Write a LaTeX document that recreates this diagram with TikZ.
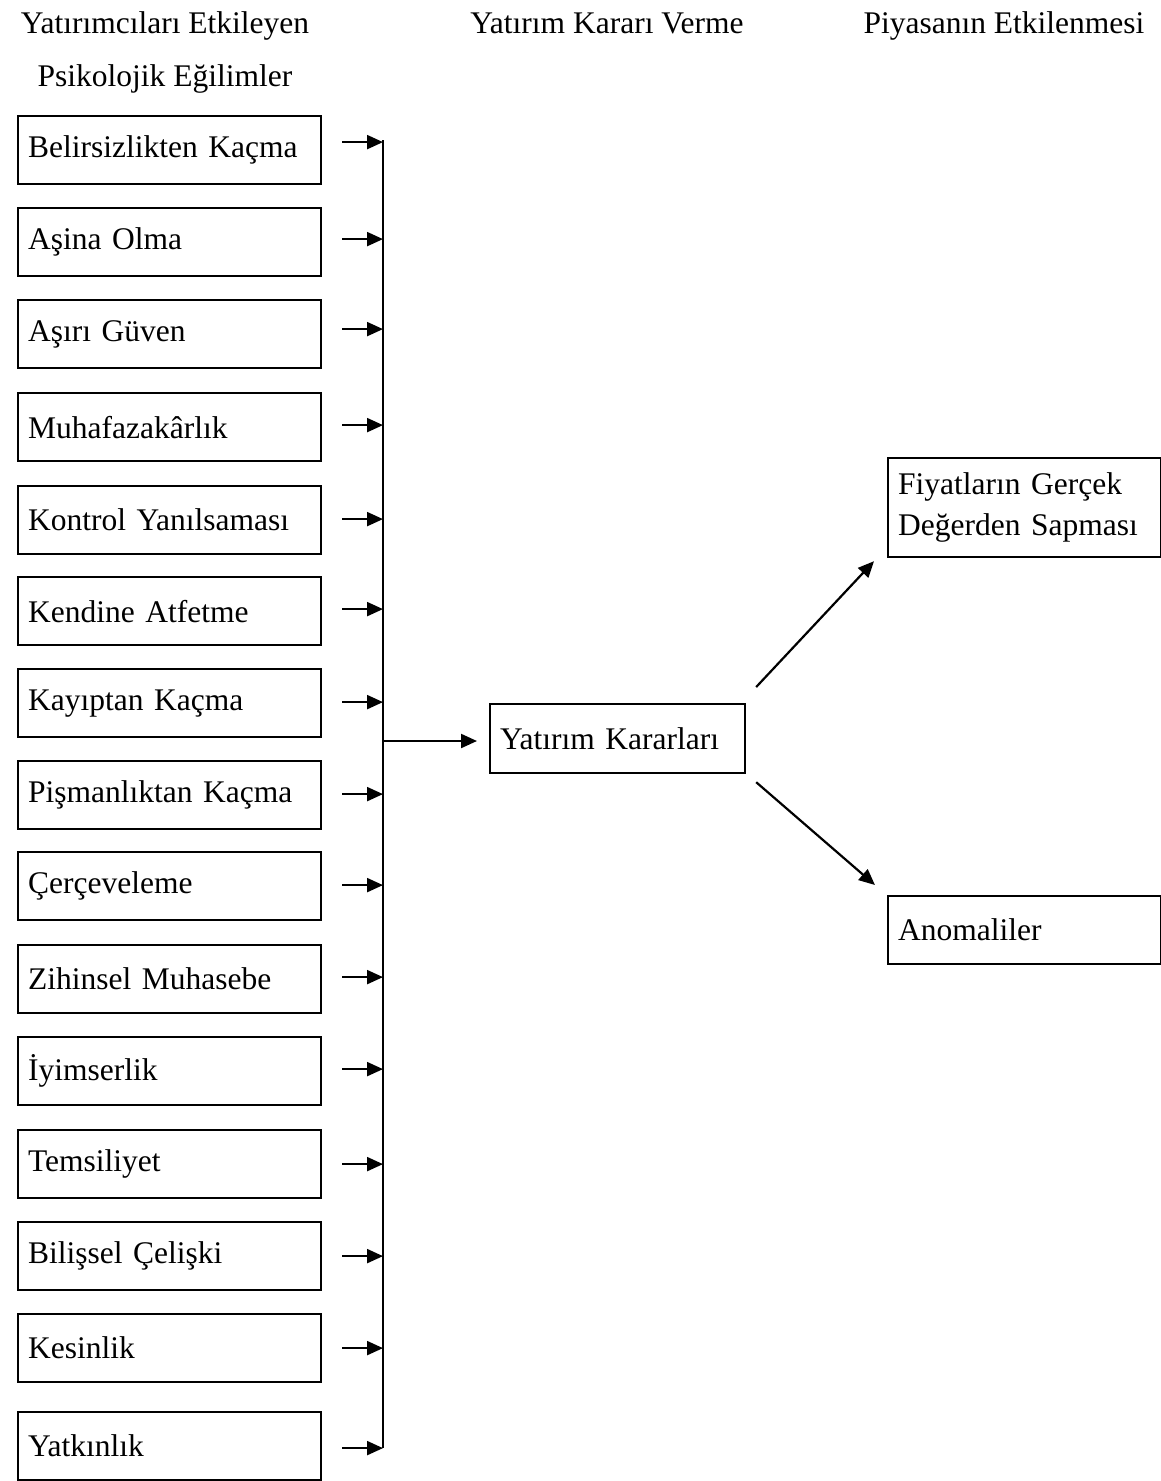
\documentclass[tikz,border=0pt]{standalone}
\usepackage{fontspec}
\setmainfont{Liberation Serif}
\usetikzlibrary{arrows.meta,calc}
\begin{document}
\begin{tikzpicture}[x=1pt,y=-1pt,
  every node/.style={font=\fontsize{31.5}{41}\selectfont},
  lbox/.style={draw,line width=2.2pt,rectangle,minimum height=68pt,text width=283pt,inner xsep=10pt,inner ysep=0pt,align=left,anchor=north west},
  hdr/.style={inner sep=0pt,anchor=base},
  arr/.style={line width=2.2pt,-{Triangle[length=16pt,width=14pt]}},
  ln/.style={line width=2.2pt}]
\useasboundingbox (0,0) rectangle (1161,1481);
% headers
\node[hdr] (h1) at (165,33) {Yatırımcıları Etkileyen};
\node[hdr] (h2) at (165,86) {Psikolojik Eğilimler};
\node[hdr] (h3) at (607,33) {Yatırım Kararı Verme};
\node[hdr] (h4) at (1004,33) {Piyasanın Etkilenmesi};
% left boxes
\foreach \i/\t/\y in {1/Belirsizlikten Kaçma/115, 2/Aşina Olma/207, 3/Aşırı Güven/299, 4/Muhafazakârlık/392, 5/Kontrol Yanılsaması/485, 6/Kendine Atfetme/576, 7/Kayıptan Kaçma/668, 8/Pişmanlıktan Kaçma/760, 9/Çerçeveleme/851, 10/Zihinsel Muhasebe/944, 11/İyimserlik/1036, 12/Temsiliyet/1129, 13/Bilişsel Çelişki/1221, 14/Kesinlik/1313, 15/Yatkınlık/1411}
  {\node[lbox] (b\i) at (17,\y) {\t};}
% bus
\coordinate (bustop) at (383,140);
\coordinate (busbot) at (383,1448);
\coordinate (busmid) at (383,741);
\draw[ln] (bustop) -- (busbot);
\foreach \i/\dy in {1/-8,2/-3,3/-5,4/-2,5/-1,6/-2,7/-1,8/-1,9/-1,10/-2,11/-2,12/0,13/0,14/0,15/2}
  {\draw[arr] ([xshift=20pt,yshift=-\dy pt]b\i.east) -- ([yshift=-\dy pt]b\i.east -| bustop);}
% decision box
\node[draw,line width=2.2pt,rectangle,minimum width=255pt,minimum height=69pt,text width=235pt,inner xsep=10pt,inner ysep=0pt,align=left,anchor=north west] (yk) at (489,703) {Yatırım Kararları};
\draw[arr] (busmid) -- (busmid -| {$(yk.west)+(-12,0)$});
% outcome boxes
\node[draw,line width=2.2pt,rectangle,minimum width=273pt,minimum height=99pt,text width=253pt,inner xsep=10pt,inner ysep=0pt,align=left,anchor=north west] (fg) at (887,457) {Fiyatların Gerçek\\Değerden Sapması};
\node[draw,line width=2.2pt,rectangle,minimum width=273pt,minimum height=68pt,text width=253pt,inner xsep=10pt,inner ysep=0pt,align=left,anchor=north west] (an) at (887,895) {Anomaliler};
\draw[arr] ($(yk.north east)+(10,-16)$) -- ($(fg.south west)+(-13,3)$);
\draw[arr] ($(yk.south east)+(10,8)$) -- ($(an.north west)+(-12,-10)$);
\end{tikzpicture}
\end{document}
